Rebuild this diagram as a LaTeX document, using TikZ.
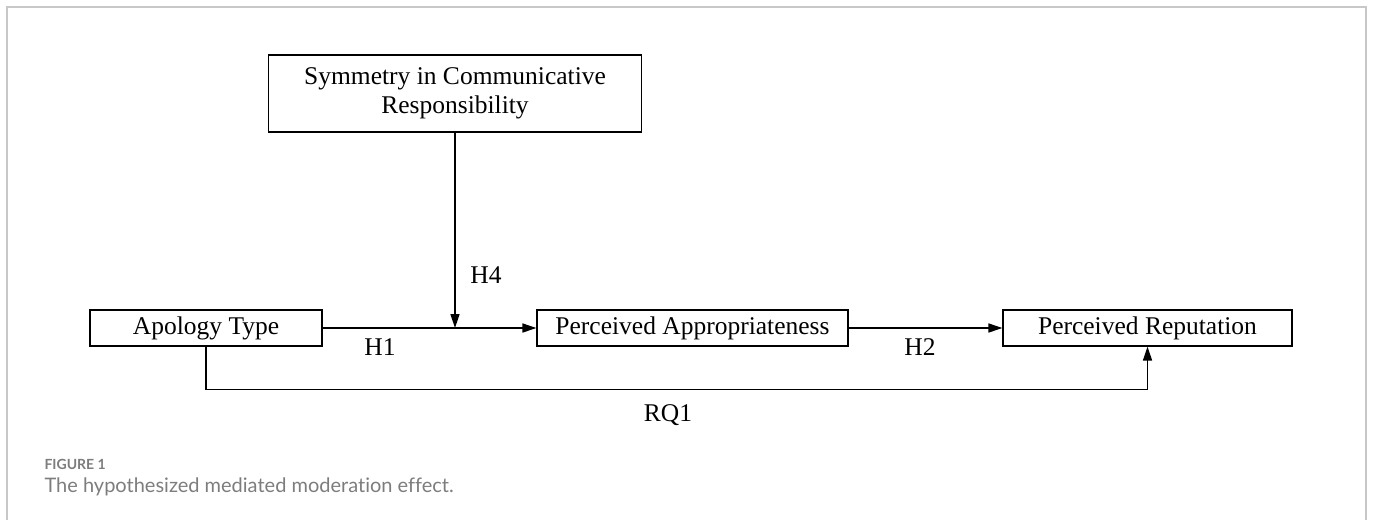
\documentclass[tikz,border=0pt]{standalone}
\usepackage{fontspec}
\setmainfont{Liberation Serif}
\newfontfamily\capfont[Ligatures={NoCommon}]{Lato}
\usetikzlibrary{arrows.meta}
\definecolor{capgray}{RGB}{125,125,125}
\definecolor{framegray}{RGB}{200,200,200}
\begin{document}
\begin{tikzpicture}[x=1pt,y=-1pt,
  varbox/.style={draw,line width=1.2pt,minimum height=36pt,inner sep=0pt,font=\fontsize{25.5}{29}\selectfont},
  effect/.style={line width=1.6pt,-{Triangle[length=14pt,width=9pt]}},
  hyp/.style={font=\fontsize{25.5}{30}\selectfont}]

\useasboundingbox (0,0) rectangle (1375,520);
\draw[framegray,line width=1.5pt] (7,520) -- (7,7) -- (1366,7) -- (1366,520);

\node[varbox,minimum width=373pt,minimum height=77pt,align=center] (sym) at (455,93.5) {Symmetry in Communicative\\Responsibility};
\node[varbox,minimum width=232pt] (apol) at (206,328) {Apology Type};
\node[varbox,minimum width=311pt] (appr) at (692.5,328) {Perceived Appropriateness};
\node[varbox,minimum width=289pt] (rep) at (1147.5,328) {Perceived Reputation};
\coordinate (mod) at (sym.south |- apol.east);

\draw[effect] (apol) -- (appr);
\draw[effect] (sym) -- (mod);
\draw[effect] (appr) -- (rep);
\draw[effect] (apol.south) -- ++(0,43) -| (rep.south);

\node[hyp] (h4) at (486,275) {H4};
\node[hyp] (h1) at (380,347) {H1};
\node[hyp] (h2) at (920,347) {H2};
\node[hyp] (rq1) at (668,415) {RQ1};

\node[anchor=west,text=capgray,font=\capfont\bfseries\fontsize{14}{16}\selectfont] (fig) at (41,464) {FIGURE 1};
\node[anchor=west,text=capgray,font=\capfont\fontsize{20}{23}\selectfont] (cap) at (41,487) {The hypothesized mediated moderation effect.};
\end{tikzpicture}
\end{document}
